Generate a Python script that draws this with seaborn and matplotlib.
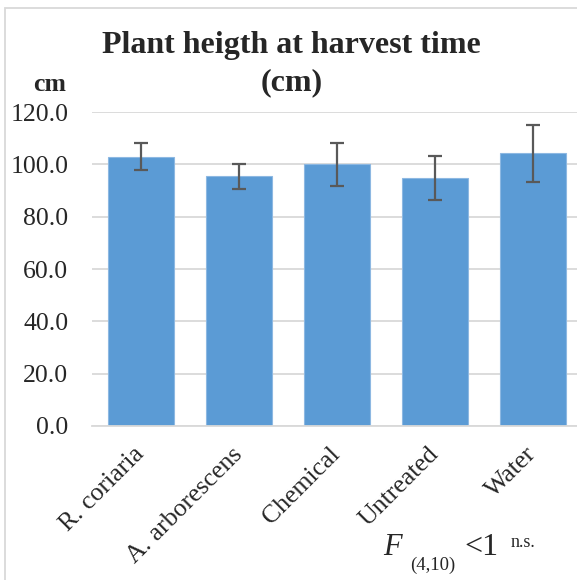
import matplotlib
matplotlib.use("Agg")
import matplotlib.pyplot as plt
import seaborn as sns
import pandas as pd
from matplotlib.patches import Rectangle

# values
treatments = ["R. coriaria", "A. arborescens", "Chemical", "Untreated", "Water"]
heights = [102.9, 95.4, 100.0, 94.8, 104.2]
errors = [5.2, 4.8, 8.1, 8.5, 10.9]
yticks = [0, 20, 40, 60, 80, 100, 120]

bar_color = "#5B9BD5"
grid_color = "#D9D9D9"
err_color = "#595959"

sns.set_theme(style="white")
plt.rcParams["font.family"] = ["Liberation Serif", "DejaVu Serif"]

W, H = 577, 580
fig = plt.figure(figsize=(W / 100, H / 100), dpi=100)
ax = fig.add_axes([92 / W, 1 - 426 / H, 490 / W, 314 / H])

df = pd.DataFrame({"treatment": treatments, "height": heights})
sns.barplot(data=df, x="treatment", y="height", color=bar_color, width=0.67,
            saturation=1, edgecolor="#8DB8E2", linewidth=0.8, ax=ax, zorder=2)

xs = ax.get_xticks()
ax.errorbar(xs, heights, yerr=errors, fmt="none", ecolor=err_color,
            elinewidth=1.6, capsize=5, capthick=1.6, zorder=3)

ax.set_xlim(-0.5, len(treatments) - 0.5)
ax.set_ylim(0, 120)
ax.set_yticks(yticks)
ax.set_yticklabels([f"{v:.1f}" for v in yticks], fontsize=18.5)
ax.yaxis.grid(True, color=grid_color, linewidth=1.3)
ax.set_axisbelow(True)
for s in ["top", "right", "left"]:
    ax.spines[s].set_visible(False)
ax.spines["bottom"].set_color(grid_color)
ax.spines["bottom"].set_linewidth(1.3)
ax.tick_params(axis="both", length=0)
ax.tick_params(axis="y", pad=17)
ax.tick_params(axis="x", pad=18)
ax.set_xticks(xs)
ax.set_xticklabels(treatments, fontsize=18.5, rotation=45, ha="right",
                   va="center", rotation_mode="anchor")
ax.set_xlabel("")
ax.set_ylabel("")

# chart frame
fig.patches.append(Rectangle((5 / W, -0.1), 1.2, 1 - 8 / H + 0.1,
                             transform=fig.transFigure, fill=False,
                             edgecolor=grid_color, linewidth=1.3))

fig.text(291 / W, 1 - 53 / H, "Plant heigth at harvest time", ha="center",
         va="baseline", fontsize=23, fontweight="bold")
fig.text(292 / W, 1 - 90 / H, "(cm)", ha="center", va="baseline",
         fontsize=23, fontweight="bold")
fig.text(50 / W, 1 - 91 / H, "cm", ha="center", va="baseline",
         fontsize=18.5, fontweight="bold")

fig.text(383 / W, 1 - 555 / H, "F", ha="left", va="baseline",
         fontsize=22, style="italic")
fig.text(410 / W, 1 - 570 / H, "(4,10)", ha="left", va="baseline", fontsize=13.5)
fig.text(464 / W, 1 - 555 / H, "<1", ha="left", va="baseline", fontsize=23)
fig.text(511 / W, 1 - 547 / H, "n.s.", ha="left", va="baseline", fontsize=13)

fig.savefig("out.png", dpi=100)
